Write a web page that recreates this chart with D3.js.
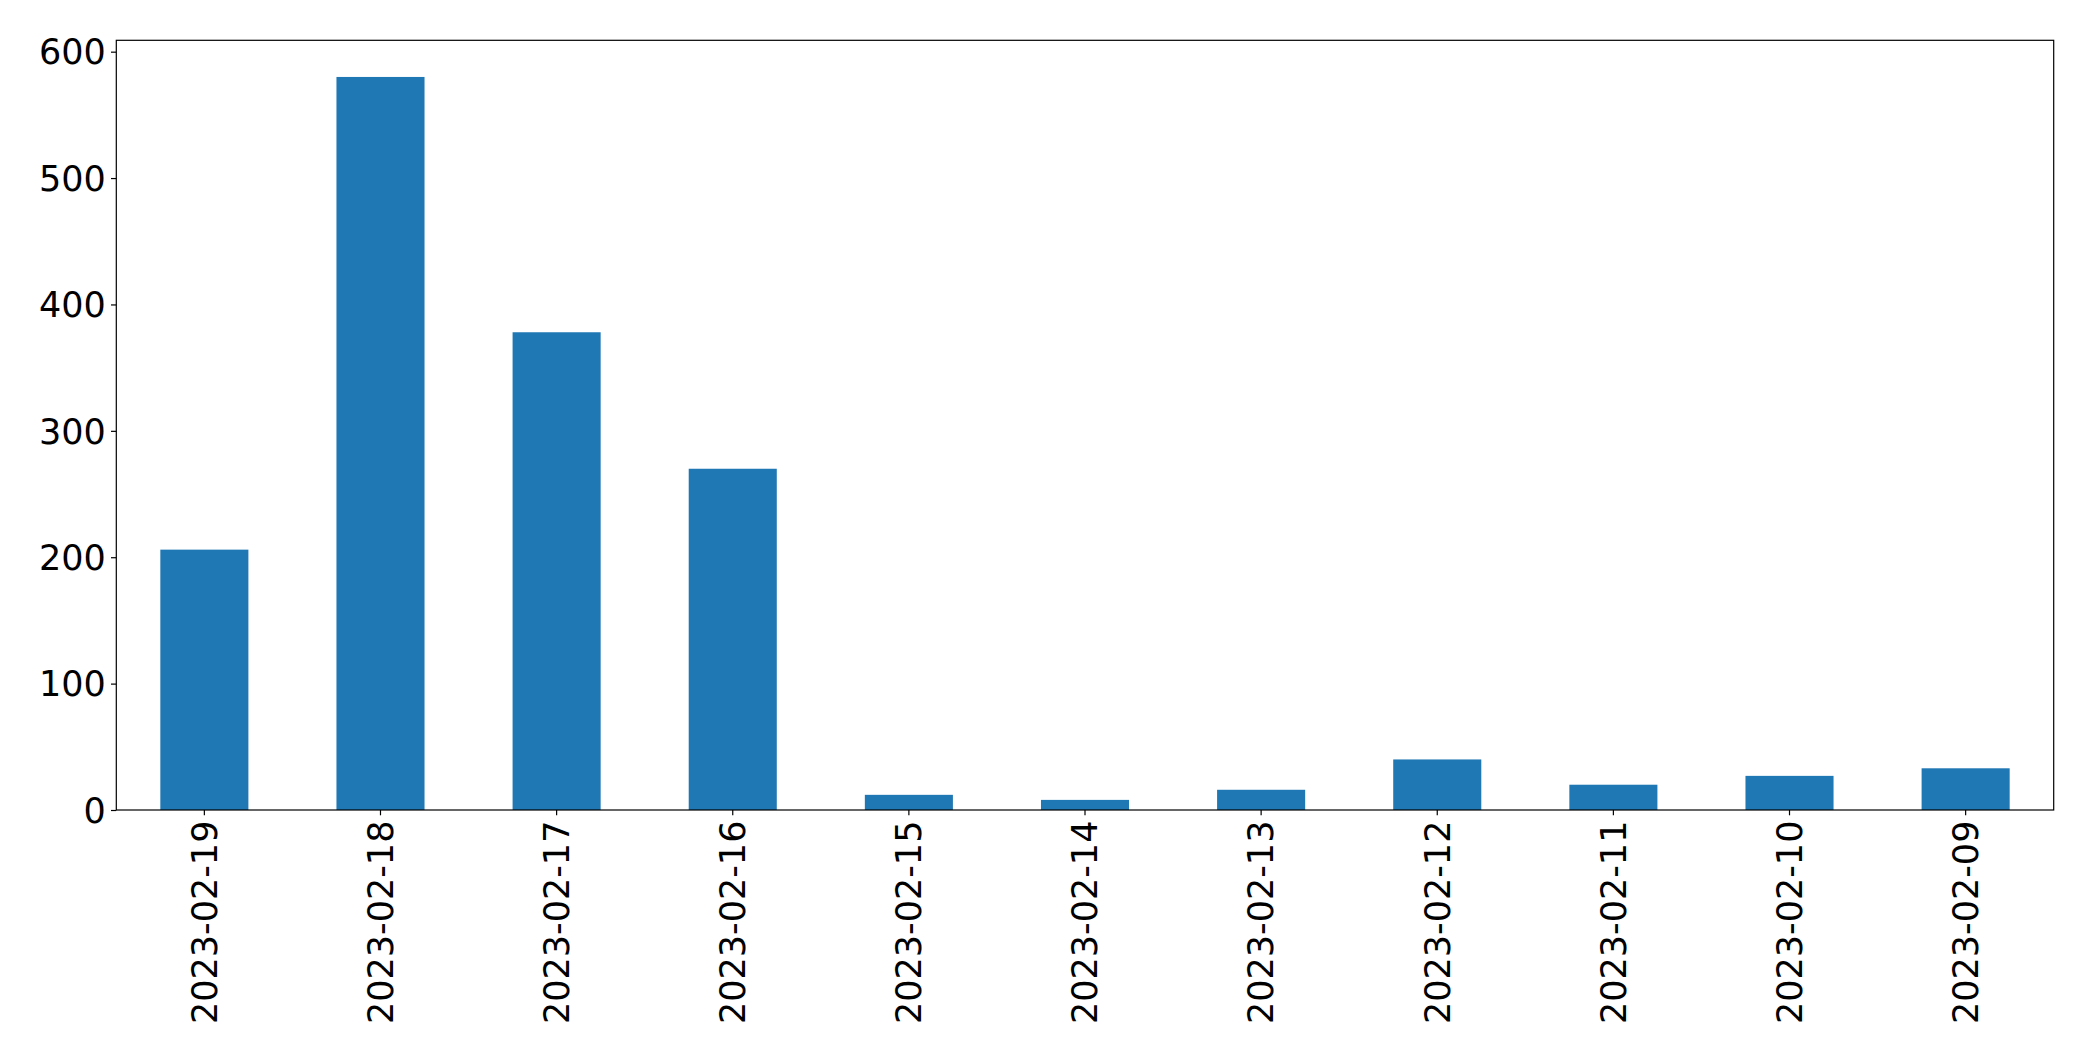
<!DOCTYPE html>
<html>
<head>
<meta charset="utf-8">
<script src="https://cdn.jsdelivr.net/npm/d3@7"></script>
<style>
  html, body { margin: 0; padding: 0; background: #fff; }
  svg { display: block; }
  text { font-family: "DejaVu Sans", sans-serif; fill: #000; }
</style>
</head>
<body>
<div id="chart"></div>
<script>
const categories = ["2023-02-19","2023-02-18","2023-02-17","2023-02-16","2023-02-15","2023-02-14","2023-02-13","2023-02-12","2023-02-11","2023-02-10","2023-02-09"];
const values = [206, 580, 378, 270, 12, 8, 16, 40, 20, 27, 33];
const yTicks = [0, 100, 200, 300, 400, 500, 600];

const W = 2093, H = 1062;
const margin = {left: 116.3, right: 39.3, top: 40.3, bottom: H - 810};
const iw = W - margin.left - margin.right;
const ih = H - margin.top - margin.bottom;

const svg = d3.select("#chart").append("svg").attr("width", W).attr("height", H);
const g = svg.append("g").attr("transform", `translate(${margin.left},${margin.top})`);

const x = d3.scaleBand().domain(categories).range([0, iw]).paddingInner(0.5).paddingOuter(0.25);
const y = d3.scaleLinear().domain([0, d3.max(values) * 1.05]).range([ih, 0]);

g.selectAll("rect.bar").data(values).enter().append("rect")
  .attr("class", "bar")
  .attr("x", (d, i) => x(categories[i]))
  .attr("width", x.bandwidth())
  .attr("y", d => y(d))
  .attr("height", d => ih - y(d))
  .attr("fill", "#1f77b4");

const fs = 35;
const yAxis = g.append("g").call(d3.axisLeft(y).tickValues(yTicks).tickSize(5.3).tickPadding(5.3));
yAxis.select(".domain").remove();
yAxis.selectAll("text").style("font-size", fs + "px").attr("dy", "0.35em");
yAxis.selectAll("line").attr("stroke", "#000").attr("stroke-width", 1.2);

const xAxis = g.append("g").attr("transform", `translate(0,${ih})`)
  .call(d3.axisBottom(x).tickSize(5.3).tickPadding(5.3));
xAxis.select(".domain").remove();
xAxis.selectAll("line").attr("stroke", "#000").attr("stroke-width", 1.2);
xAxis.selectAll("text")
  .style("font-size", fs + "px")
  .attr("text-anchor", "end")
  .attr("transform", "rotate(-90)")
  .attr("x", -10.6)
  .attr("y", 0)
  .attr("dy", "0.35em");

g.append("rect").attr("x", 0).attr("y", 0).attr("width", iw).attr("height", ih)
  .attr("fill", "none").attr("stroke", "#000").attr("stroke-width", 1.2);
</script>
</body>
</html>
